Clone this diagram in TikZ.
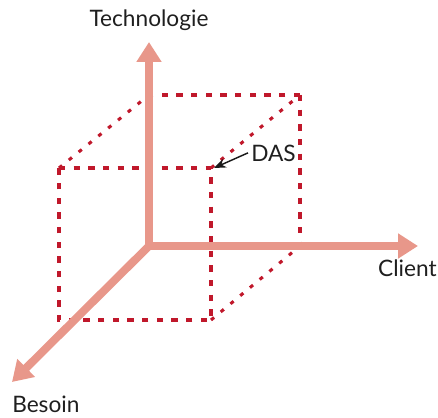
\documentclass[tikz,border=0pt]{standalone}
\usepackage{fontspec}
\setmainfont{Lato}
\usetikzlibrary{arrows.meta}
\definecolor{axiscol}{HTML}{E8978A}
\definecolor{cubecol}{HTML}{C0182B}
\tikzset{
  axis/.style={draw=axiscol, line width=6pt, line cap=rect,
    -{Triangle[width=18pt, length=15pt]}},
  edge/.style={draw=cubecol, line width=2.3pt, dash pattern=on 4.8pt off 6.2pt},
  depth/.style={draw=cubecol, line width=2.3pt, dash pattern=on 3pt off 6.5pt},
  label/.style={font=\fontsize{17}{20}\selectfont, text=black!88, inner sep=0pt},
}
\begin{document}
\begin{tikzpicture}[x=0.75pt, y=-0.75pt]
  \useasboundingbox (0,0) rectangle (438,417);
  % origin and axis ends
  \coordinate (O) at (149,246);
  \coordinate (T) at (149,42);
  \coordinate (C) at (418,246);
  \coordinate (B) at (12,382);
  % cube corners: front face and back face
  \coordinate (f1) at (59,168);
  \coordinate (f2) at (211,168);
  \coordinate (f3) at (211,320);
  \coordinate (f4) at (59,320);
  \coordinate (b1) at (149,95);
  \coordinate (b2) at (300,95);
  \coordinate (b3) at (300,246);
  % cube
  \draw[edge] (f1) -- (f2) -- (f3) -- (f4) -- cycle;
  \draw[edge] (b2) -- (b1);
  \draw[edge] (b2) -- (b3);
  \draw[depth] (f1) -- (b1);
  \draw[depth] (f2) -- (b2);
  \draw[depth] (f3) -- (b3);
  % axes
  \draw[axis] (O) -- (T);
  \draw[axis] (O) -- (C);
  \draw[axis, line cap=butt] (O) -- (B);
  % labels
  \node[label, anchor=base] (tech) at (149,27) {Technologie};
  \node[label, anchor=base east] (client) at (437,276) {Client};
  \node[label, anchor=base west] (besoin) at (12,412) {Besoin};
  \node[label, anchor=base west] (das) at (251,161) {DAS};
  \draw[-{Stealth[length=9pt, width=7pt]}, line width=1.1pt, black!90]
    (das.west) ++(-3,0) -- ([shift={(3,0)}]f2);
\end{tikzpicture}
\end{document}
